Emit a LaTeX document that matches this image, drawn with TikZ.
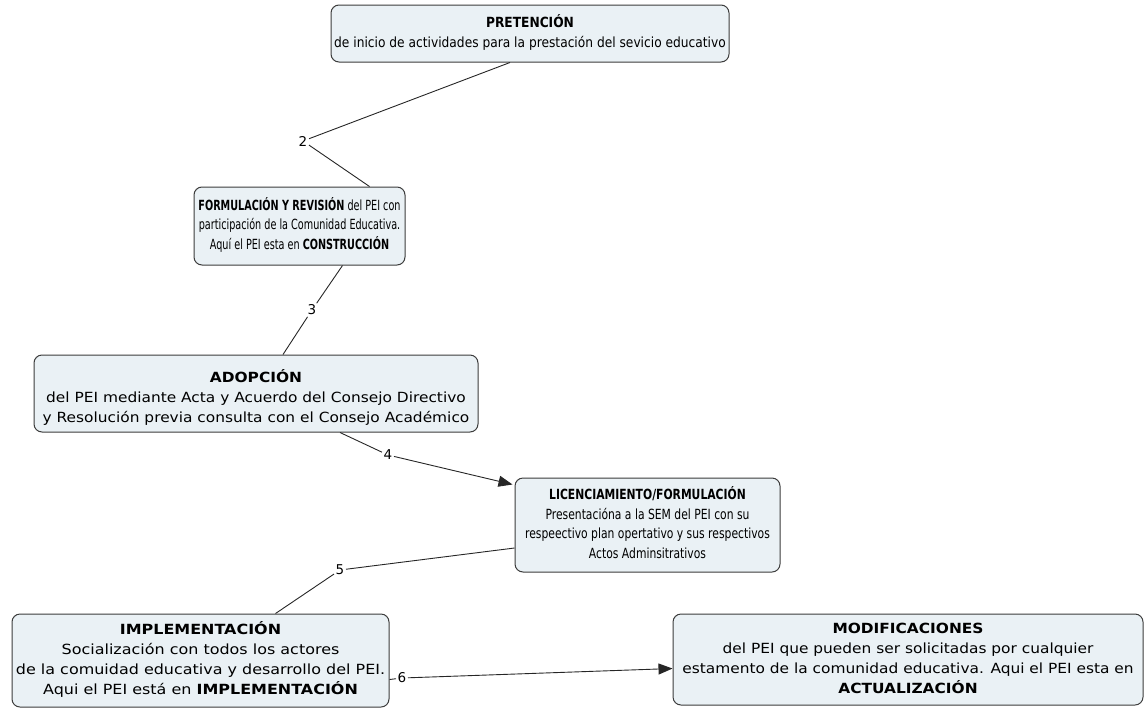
\documentclass[tikz,border=0pt]{standalone}
\usepackage{fontspec}
\usepackage{graphicx}
\setmainfont{DejaVu Sans}
\usetikzlibrary{arrows.meta,calc}
\definecolor{boxfill}{RGB}{234,241,245}
\definecolor{boxdraw}{RGB}{60,60,60}
\newcommand{\cmtext}[2]{\scalebox{#1}[1]{\begin{tabular}{@{}c@{}}#2\end{tabular}}}
\tikzset{
  concept/.style={draw=boxdraw, line width=1pt, fill=boxfill, rounded corners=8pt,
    align=center, inner sep=0pt, font=\fontsize{14}{19.8}\selectfont},
  lbl/.style={inner sep=1.5pt, font=\fontsize{13.5}{14}\selectfont},
  link/.style={draw=black!85, line width=0.9pt},
  arr/.style={link, -{Triangle[length=14pt,width=11pt]}}
}
\begin{document}
\begin{tikzpicture}[x=1pt,y=-1pt]
\useasboundingbox (0,0) rectangle (1147,707);
\node[concept, minimum width=398pt, minimum height=57pt] (pre) at (530,33.5)
  {\cmtext{0.874}{\textbf{PRETENCIÓN}\\de inicio de actividades para la prestación del sevicio educativo}};
\node[concept, minimum width=211pt, minimum height=78pt] (form) at (299.5,226)
  {\cmtext{0.69}{\textbf{FORMULACIÓN Y REVISIÓN} del PEI con\\participación de la Comunidad Educativa.\\Aquí el PEI esta en \textbf{CONSTRUCCIÓN}}};
\node[concept, minimum width=444pt, minimum height=77pt] (adop) at (256,393.5)
  {\raisebox{-5pt}[\height][\depth]{\cmtext{1.10}{\textbf{ADOPCIÓN}\\del PEI mediante Acta y Acuerdo del Consejo Directivo\\y Resolución previa consulta con el Consejo Académico}}};
\node[concept, minimum width=265pt, minimum height=94pt] (lic) at (647.5,525)
  {\cmtext{0.77}{\textbf{LICENCIAMIENTO/FORMULACIÓN}\\Presentacióna a la SEM del PEI con su\\respeectivo plan opertativo y sus respectivos\\Actos Adminsitrativos}};
\node[concept, minimum width=377pt, minimum height=93pt] (impl) at (200.5,660.5)
  {\cmtext{1.14}{\textbf{IMPLEMENTACIÓN}\\Socialización con todos los actores\\de la comuidad educativa y desarrollo del PEI.\\Aqui el PEI está en \textbf{IMPLEMENTACIÓN}}};
\node[concept, minimum width=470pt, minimum height=91pt] (mod) at (908,659.5)
  {\cmtext{1.10}{\textbf{MODIFICACIONES}\\del PEI que pueden ser solicitadas por cualquier\\estamento de la comunidad educativa. Aqui el PEI esta en\\\textbf{ACTUALIZACIÓN}}};
\node[lbl] (l2) at (303,141) {2};
\node[lbl] (l3) at (312,310) {3};
\node[lbl] (l4) at (388,455) {4};
\node[lbl] (l5) at (340,570) {5};
\node[lbl] (l6) at (402,678) {6};
\draw[link] ([xshift=-20pt]pre.south) -- (l2) -- ([xshift=70pt]form.north);
\draw[link] ([xshift=43pt]form.south) -- (l3) -- ([xshift=27pt]adop.north);
\draw[link] ([xshift=84pt]adop.south) -- (l4);
\draw[arr] (l4) -- ([yshift=-7pt,xshift=-2pt]lic.north west);
\draw[link] ([yshift=-23pt]lic.west) -- (l5) -- ([xshift=75pt]impl.north);
\draw[link] ([yshift=-19pt]impl.east) -- (l6);
\draw[arr] (l6) -- ([yshift=-9pt]mod.west);
\end{tikzpicture}
\end{document}
